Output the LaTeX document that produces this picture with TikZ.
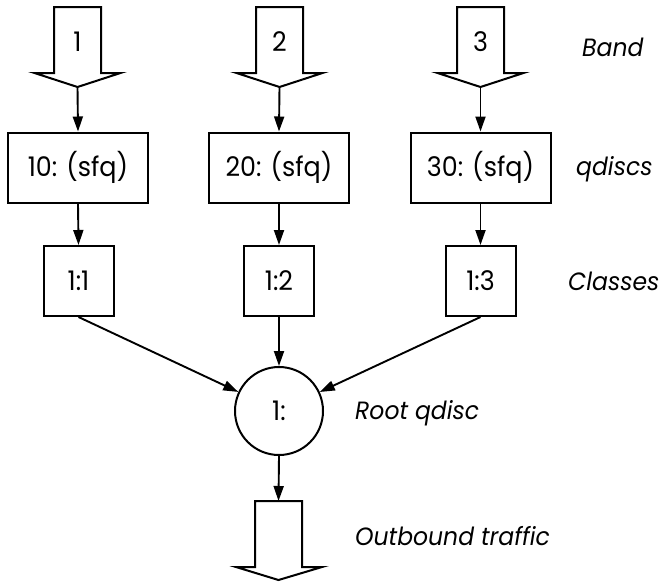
\documentclass[tikz,border=0pt]{standalone}
\usepackage{fontspec}
\setmainfont{Poppins}[FakeStretch=0.94]
\usetikzlibrary{arrows.meta}
\tikzset{
  conn/.style={line width=1.9pt, -{Triangle[length=15pt,width=10pt]}},
  bigbox/.style={draw, line width=2pt, minimum width=140pt, minimum height=70pt, inner sep=0pt, font=\fontsize{27}{31}\selectfont},
  smallbox/.style={draw, line width=2pt, minimum width=70pt, minimum height=70pt, inner sep=0pt, font=\fontsize{27}{31}\selectfont},
  rootnode/.style={draw, circle, line width=2pt, minimum size=88pt, inner sep=0pt, font=\fontsize{27}{31}\selectfont},
  blockarrow/.style={draw, line width=2pt, line join=miter},
  numlabel/.style={inner sep=0pt, font=\fontsize{27}{31}\selectfont},
  sidelabel/.style={anchor=base west, inner sep=0pt, font=\fontsize{25}{29}\selectfont\itshape},
}
\begin{document}
\begin{tikzpicture}[x=1pt,y=-1pt]
\useasboundingbox (0,0) rectangle (663,582);
% top block arrows
\foreach \cx/\n/\k in {77.5/1/a, 279.5/2/b, 480.5/3/c}{
  \draw[blockarrow] (\cx-23.5,7) -- (\cx+23.5,7) -- (\cx+23.5,73) -- (\cx+43,73) -- (\cx,87) -- (\cx-43,73) -- (\cx-23.5,73) -- cycle;
  \node[numlabel] (n\k) at (\cx,42) {\n};
  \coordinate (t\k) at (\cx,87);
}
% qdisc boxes
\node[bigbox] (q1) at (78,167.5) {10: (sfq)};
\node[bigbox] (q2) at (279,167.5) {20: (sfq)};
\node[bigbox] (q3) at (480.5,167.5) {30: (sfq)};
% class boxes
\node[smallbox] (c1) at (78.5,281) {1:1};
\node[smallbox] (c2) at (279,281) {1:2};
\node[smallbox] (c3) at (480.5,281) {1:3};
% root
\node[rootnode] (root) at (279,411) {1:};
% bottom block arrow
\draw[blockarrow] (255,501) -- (302,501) -- (302,567) -- (322,567) -- (278.5,580) -- (236,567) -- (255,567) -- cycle;
\coordinate (bt) at (278.5,501);
% connectors
\draw[conn] (ta) -- (q1.north);
\draw[conn] (tb) -- (q2.north);
\draw[conn] (tc) -- (q3.north);
\draw[conn] (q1.south) -- (c1.north);
\draw[conn] (q2.south) -- (c2.north);
\draw[conn] (q3.south) -- (c3.north);
\draw[conn] (c1.south) -- (root);
\draw[conn] (c2.south) -- (root);
\draw[conn] (c3.south) -- (root);
\draw[conn] (root.south) -- (bt);
% side labels
\node[sidelabel] (lband) at (582,56) {Band};
\node[sidelabel] (lq) at (576,175) {qdiscs};
\node[sidelabel] (lc) at (568,290) {Classes};
\node[sidelabel] (lr) at (355,419) {Root qdisc};
\node[sidelabel] (lo) at (355,545) {Outbound traffic};
\end{tikzpicture}
\end{document}
